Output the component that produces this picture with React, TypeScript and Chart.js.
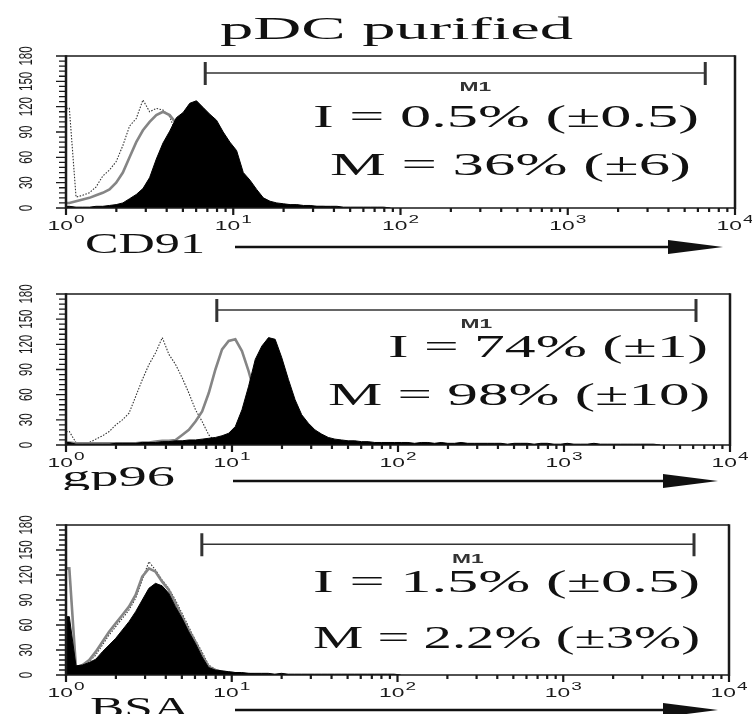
import { useEffect, useRef } from 'react';
import { Chart, registerables } from 'chart.js';

Chart.register(...registerables);

// Width of one histogram channel on the log axis, in decades; channel 0 starts at 10^0.
const BIN_DECADES = 0.04;

// Cell counts per channel: black = stained, gray = isotype control, dotted = unstained.
const CD91_STAINED = [2, 1, 1, 1, 2, 2, 3, 4, 6, 11, 16, 23, 36, 58, 77, 91, 107, 113, 124, 127, 119, 111, 104, 90, 78, 68, 42, 33, 22, 12, 8, 6, 5, 4, 4, 3, 3, 2, 2, 2, 2, 1, 1, 1, 1, 1, 1, 1, 0];
const CD91_ISOTYPE = [6, 8, 10, 12, 15, 18, 22, 30, 42, 60, 78, 92, 102, 110, 114, 110, 100, 86, 70, 52, 36, 24, 15, 10, 6, 4, 3, 2, 2, 2, 2, 1, 1, 1, 1, 1, 1, 1, 1, 0];
const CD91_UNSTAINED = [118, 13, 15, 18, 25, 38, 45, 55, 74, 97, 106, 128, 114, 118, 116, 108, 88, 68, 48, 32, 20, 12, 8, 5, 3, 2, 1, 1, 1, 0];

const GP96_STAINED = [3, 1, 1, 1, 1, 1, 1, 2, 2, 2, 2, 3, 3, 3, 4, 4, 5, 5, 6, 6, 7, 8, 9, 11, 14, 22, 42, 70, 102, 118, 128, 126, 104, 78, 54, 36, 26, 18, 13, 9, 7, 6, 5, 5, 4, 4, 3, 3, 3, 3, 3, 3, 2, 3, 3, 2, 3, 2, 2, 3, 2, 2, 2, 2, 2, 2, 1, 2, 2, 2, 1, 2, 2, 1, 1, 2, 1, 1, 1, 2, 1, 1, 1, 1, 1, 1, 1, 1, 1, 0];
const GP96_ISOTYPE = [3, 2, 2, 2, 2, 2, 2, 2, 2, 2, 2, 3, 3, 4, 5, 5, 6, 12, 18, 28, 40, 62, 90, 114, 124, 126, 112, 88, 60, 38, 22, 13, 8, 5, 4, 3, 2, 2, 2, 2, 2, 1, 1, 1, 1, 1, 1, 1, 1, 1, 1, 0];
const GP96_UNSTAINED = [16, 3, 2, 3, 7, 11, 16, 24, 30, 38, 58, 78, 96, 110, 128, 108, 96, 80, 62, 42, 28, 12, 4, 2, 1, 0];

const BSA_STAINED = [70, 11, 12, 15, 19, 28, 36, 44, 54, 64, 76, 90, 104, 110, 107, 98, 82, 68, 52, 38, 22, 9, 6, 5, 4, 3, 3, 2, 2, 2, 2, 1, 2, 1, 1, 1, 1, 1, 1, 1, 1, 1, 1, 1, 1, 1, 1, 1, 1, 1, 0];
const BSA_ISOTYPE = [128, 9, 12, 18, 28, 40, 52, 62, 72, 82, 96, 118, 128, 124, 112, 102, 86, 70, 54, 40, 24, 10, 6, 4, 3, 2, 1, 1, 0];
const BSA_UNSTAINED = [128, 8, 11, 16, 24, 36, 48, 58, 68, 78, 92, 114, 136, 126, 114, 104, 90, 74, 58, 42, 28, 12, 7, 4, 2, 1, 0];

// Axis ticks
const DECADES = [1, 10, 100, 1000, 10000];
const DECADE_EXPONENTS = ['0', '1', '2', '3', '4'];
const MINOR_MULTIPLES = [2, 3, 4, 5, 6, 7, 8, 9];
const COUNT_TICKS = [0, 30, 60, 90, 120, 150, 180];
const COUNT_MINOR_STEP = 6;

// Panel annotations
const TITLE = 'pDC purified';
const MARKERS = ['CD91', 'gp96', 'BSA'];
const STAT_I = ['I = 0.5% (±0.5)', 'I = 74% (±1)', 'I = 1.5% (±0.5)'];
const STAT_M = ['M = 36% (±6)', 'M = 98% (±10)', 'M = 2.2% (±3%)'];
const GATE_LABEL = 'M1';
const GATE_FROM = [6.8, 8.1, 6.6];
const GATE_TO = [6640, 6240, 6150];
const GATE_LEVEL = [160, 161, 157];

const SERIES = [
  [CD91_STAINED, CD91_ISOTYPE, CD91_UNSTAINED],
  [GP96_STAINED, GP96_ISOTYPE, GP96_UNSTAINED],
  [BSA_STAINED, BSA_ISOTYPE, BSA_UNSTAINED],
];

const SANS = '"Liberation Sans", Arial, Helvetica, sans-serif';
const SERIF = '"Liberation Serif", "Times New Roman", Times, serif';

type Box = { left: number; right: number; baseline: number };
type Layout = {
  canvasTop: number;
  canvasHeight: number;
  chartTop: number;
  chartBottom: number;
  chartRight: number;
  statI: Box;
  statM: Box;
  marker: Box;
  arrow: { y: number; x0: number; x1: number };
};

// Page-space geometry of each panel
const LAYOUTS: Layout[] = [
  {
    canvasTop: 0, canvasHeight: 268, chartTop: 56, chartBottom: 208, chartRight: 735,
    statI: { left: 313, right: 699, baseline: 127 },
    statM: { left: 330, right: 691, baseline: 175 },
    marker: { left: 85, right: 205, baseline: 253 },
    arrow: { y: 247, x0: 235, x1: 723 },
  },
  {
    canvasTop: 268, canvasHeight: 222, chartTop: 294, chartBottom: 445, chartRight: 730,
    statI: { left: 388, right: 708, baseline: 357 },
    statM: { left: 328, right: 710, baseline: 405 },
    marker: { left: 62, right: 175, baseline: 486 },
    arrow: { y: 481, x0: 233, x1: 718 },
  },
  {
    canvasTop: 490, canvasHeight: 224, chartTop: 525, chartBottom: 675, chartRight: 729,
    statI: { left: 313, right: 700, baseline: 592 },
    statM: { left: 313, right: 700, baseline: 648 },
    marker: { left: 90, right: 190, baseline: 717 },
    arrow: { y: 710, x0: 235, x1: 718 },
  },
];

const CHART_LEFT = 66;
const PAGE_WIDTH = 752;

// Each count sits at its channel centre; the first channel also reaches back to its lower edge (10^0).
const toPoints = (counts: number[]) => [
  { x: 1, y: counts[0] },
  ...counts.map((c, i) => ({ x: Math.pow(10, (i + 0.5) * BIN_DECADES), y: c })),
];

// Draws text horizontally stretched so that it spans [left, right].
function fitText(ctx: CanvasRenderingContext2D, text: string, font: string, left: number, right: number, baseline: number) {
  ctx.save();
  ctx.font = font;
  ctx.textAlign = 'left';
  ctx.textBaseline = 'alphabetic';
  const w = ctx.measureText(text).width;
  ctx.translate(left, baseline);
  ctx.scale((right - left) / w, 1);
  ctx.fillText(text, 0, 0);
  ctx.restore();
}

function makeDecor(index: number) {
  const L = LAYOUTS[index];
  const off = L.canvasTop;
  return {
    id: 'panelDecor' + index,
    afterDatasetsDraw(chart: any) {
      const ctx: CanvasRenderingContext2D = chart.ctx;
      const { left, right, top, bottom } = chart.chartArea;
      const xs = chart.scales.x;
      const ys = chart.scales.y;
      ctx.save();
      ctx.fillStyle = '#111';
      ctx.strokeStyle = '#1a1a1a';
      ctx.lineCap = 'butt';

      // Frame
      ctx.lineWidth = 1.5;
      ctx.beginPath();
      ctx.moveTo(left, top); ctx.lineTo(right, top);
      ctx.moveTo(left, bottom); ctx.lineTo(right, bottom);
      ctx.stroke();
      ctx.lineWidth = 2.5;
      ctx.beginPath();
      ctx.moveTo(left, top - 0.75); ctx.lineTo(left, bottom + 0.75);
      ctx.moveTo(right, top - 0.75); ctx.lineTo(right, bottom + 0.75);
      ctx.stroke();

      // X ticks (log decades + minor multiples)
      ctx.lineWidth = 2.2;
      ctx.beginPath();
      DECADES.forEach((d, di) => {
        const px = xs.getPixelForValue(d);
        ctx.moveTo(px, bottom); ctx.lineTo(px, bottom + 7);
        if (di < DECADES.length - 1) {
          MINOR_MULTIPLES.forEach((m) => {
            const mx = xs.getPixelForValue(d * m);
            ctx.moveTo(mx, bottom); ctx.lineTo(mx, bottom + 4);
          });
        }
      });
      ctx.stroke();

      // X tick labels: 10 with superscript exponent
      DECADES.forEach((d, di) => {
        const px = xs.getPixelForValue(d);
        const sx = 1.9;
        ctx.font = `12px ${SANS}`;
        const w1 = ctx.measureText('10').width;
        ctx.font = `10px ${SANS}`;
        const w2 = ctx.measureText(DECADE_EXPONENTS[di]).width;
        const total = (w1 + 0.6 + w2) * sx;
        const start = px - total / 2;
        ctx.save();
        ctx.fillStyle = '#1a1a1a';
        ctx.textAlign = 'left';
        ctx.textBaseline = 'alphabetic';
        ctx.translate(start, bottom + 22);
        ctx.scale(sx, 1);
        ctx.font = `12px ${SANS}`;
        ctx.fillText('10', 0, 0);
        ctx.font = `10px ${SANS}`;
        ctx.fillText(DECADE_EXPONENTS[di], w1 + 0.6, -7);
        ctx.restore();
      });

      // Y ticks (major every 30, minor every 6)
      ctx.lineWidth = 1.3;
      ctx.beginPath();
      COUNT_TICKS.forEach((v, vi) => {
        const py = ys.getPixelForValue(v);
        ctx.moveTo(left, py); ctx.lineTo(left - 10, py);
        if (vi < COUNT_TICKS.length - 1) {
          for (let m = v + COUNT_MINOR_STEP; m < COUNT_TICKS[vi + 1]; m += COUNT_MINOR_STEP) {
            const my = ys.getPixelForValue(m);
            ctx.moveTo(left, my); ctx.lineTo(left - 7, my);
          }
        }
      });
      ctx.stroke();

      // Y tick labels, rotated
      COUNT_TICKS.forEach((v) => {
        const py = ys.getPixelForValue(v);
        ctx.save();
        ctx.fillStyle = '#1a1a1a';
        ctx.font = `11.5px ${SANS}`;
        ctx.textAlign = 'center';
        ctx.textBaseline = 'middle';
        ctx.translate(left - 38.5, py);
        ctx.scale(1.55, 1);
        ctx.rotate(-Math.PI / 2);
        ctx.fillText(String(v), 0, 0);
        ctx.restore();
      });

      // M1 gate
      const gx0 = xs.getPixelForValue(GATE_FROM[index]);
      const gx1 = xs.getPixelForValue(GATE_TO[index]);
      const gy = ys.getPixelForValue(GATE_LEVEL[index]);
      ctx.strokeStyle = '#333';
      ctx.lineWidth = 1.5;
      ctx.beginPath();
      ctx.moveTo(gx0, gy); ctx.lineTo(gx1, gy);
      ctx.stroke();
      ctx.lineWidth = 3;
      ctx.beginPath();
      ctx.moveTo(gx0, gy - 11); ctx.lineTo(gx0, gy + 12);
      ctx.moveTo(gx1, gy - 11); ctx.lineTo(gx1, gy + 12);
      ctx.stroke();
      ctx.save();
      ctx.fillStyle = '#333';
      ctx.font = `bold 12px ${SANS}`;
      const mw = ctx.measureText(GATE_LABEL).width;
      const mcx = (gx0 + gx1) / 2 + 20;
      ctx.translate(mcx - mw * 0.95, gy + 18.5);
      ctx.scale(1.9, 1);
      ctx.textBaseline = 'alphabetic';
      ctx.fillText(GATE_LABEL, 0, 0);
      ctx.restore();

      // Statistics
      ctx.fillStyle = '#111';
      const statFont = `32px ${SERIF}`;
      fitText(ctx, STAT_I[index], statFont, L.statI.left, L.statI.right, L.statI.baseline - off);
      fitText(ctx, STAT_M[index], statFont, L.statM.left, L.statM.right, L.statM.baseline - off);

      // Marker name and fluorescence arrow
      fitText(ctx, MARKERS[index], `30px ${SERIF}`, L.marker.left, L.marker.right, L.marker.baseline - off);
      const ay = L.arrow.y - off;
      const headStart = L.arrow.x1 - 55;
      ctx.strokeStyle = '#111';
      ctx.lineWidth = 2.5;
      ctx.beginPath();
      ctx.moveTo(L.arrow.x0, ay); ctx.lineTo(headStart + 2, ay);
      ctx.stroke();
      ctx.beginPath();
      ctx.moveTo(headStart, ay - 7);
      ctx.lineTo(L.arrow.x1, ay);
      ctx.lineTo(headStart, ay + 7);
      ctx.closePath();
      ctx.fill();

      if (index === 0) {
        fitText(ctx, TITLE, `31px ${SERIF}`, 220, 573, 39 - off);
      }
      ctx.restore();
    },
  };
}

function Panel({ index }: { index: number }) {
  const ref = useRef<HTMLCanvasElement>(null);
  const L = LAYOUTS[index];

  useEffect(() => {
    if (!ref.current) return;
    const [stained, isotype, unstained] = SERIES[index];
    const chart = new Chart(ref.current, {
      type: 'line',
      data: {
        datasets: [
          {
            data: toPoints(stained),
            borderColor: '#000',
            backgroundColor: '#000',
            borderWidth: 1,
            fill: 'origin',
            pointRadius: 0,
            tension: 0,
          },
          {
            data: toPoints(isotype),
            borderColor: '#858585',
            borderWidth: 2.6,
            fill: false,
            pointRadius: 0,
            tension: 0,
          },
          {
            data: toPoints(unstained),
            borderColor: '#333',
            borderWidth: 1.1,
            borderDash: [1.5, 1.5],
            fill: false,
            pointRadius: 0,
            tension: 0,
          },
        ],
      } as any,
      options: {
        animation: false,
        responsive: false,
        events: [],
        layout: {
          padding: {
            left: CHART_LEFT,
            right: PAGE_WIDTH - L.chartRight,
            top: L.chartTop - L.canvasTop,
            bottom: L.canvasTop + L.canvasHeight - L.chartBottom,
          },
        },
        plugins: {
          legend: { display: false },
          tooltip: { enabled: false },
          title: { display: false },
        },
        scales: {
          x: { type: 'logarithmic', min: 1, max: 10000, display: false },
          y: { type: 'linear', min: 0, max: 180, display: false },
        },
      } as any,
      plugins: [makeDecor(index)],
    });
    return () => chart.destroy();
  }, [index]);

  return (
    <canvas
      ref={ref}
      width={PAGE_WIDTH}
      height={L.canvasHeight}
      style={{ position: 'absolute', left: 0, top: L.canvasTop, width: PAGE_WIDTH, height: L.canvasHeight }}
    />
  );
}

export default function App() {
  return (
    <div
      style={{
        position: 'absolute',
        left: 0,
        top: 0,
        width: PAGE_WIDTH,
        height: 714,
        background: '#fff',
        overflow: 'hidden',
      }}
    >
      {LAYOUTS.map((_, i) => (
        <Panel key={i} index={i} />
      ))}
    </div>
  );
}
